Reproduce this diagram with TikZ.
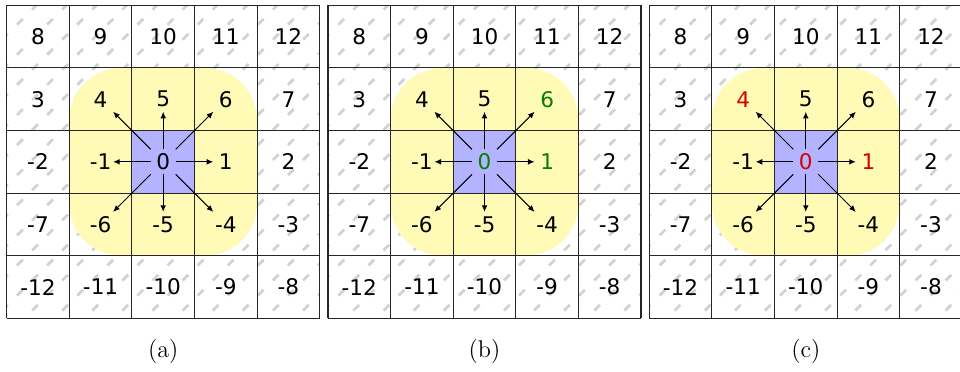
\documentclass[tikz,border=0pt]{standalone}
\usepackage{fontspec}
\newfontfamily\cellfont{DejaVu Sans}
\usepackage{tikz}
\usetikzlibrary{calc, arrows.meta}
\definecolor{padyellow}{HTML}{FFFAB5}
\definecolor{centreblue}{HTML}{B3B3FF}
\definecolor{hatchgray}{HTML}{D2D2D2}
\definecolor{hlgreen}{HTML}{008000}
\definecolor{hlred}{HTML}{D40000}

\begin{document}
\begin{tikzpicture}[
    cell/.style={font=\cellfont\fontsize{9.8}{11}\selectfont, inner sep=0pt},
    hatch/.style={hatchgray, line width=1.25pt, dash pattern=on 0.13cm off 0.21cm},
    gridline/.style={black!85, line width=0.5pt},
    arr/.style={-{Latex[length=3pt,width=2.6pt]}, line width=0.45pt},
    subcap/.style={font=\fontsize{11}{13}\selectfont, inner sep=0pt},
    cell b0/.style={text=hlgreen}, cell b1/.style={text=hlgreen}, cell b6/.style={text=hlgreen},
    cell c0/.style={text=hlred}, cell c1/.style={text=hlred}, cell c4/.style={text=hlred}]
  \useasboundingbox (-0.107,-0.842) rectangle (15.229,5.085);
  \foreach \p/\xo in {a/0, b/5.133, c/10.265}{
    \begin{scope}[xshift=\xo cm]
      % hatched background
      \begin{scope}
        \clip (0,0) rectangle (5,5);
        \foreach \d in {-3.6,-3.26,...,3.8}
          \draw[hatch, rotate=45] (-0.305,\d) -- (7.4,\d);
      \end{scope}
      % neighbourhood and centre
      \fill[padyellow, rounded corners=0.83cm] (1,1) rectangle (4,4);
      \fill[centreblue] (2,2) rectangle (3,3);
      \draw[gridline] (0,0) grid (5,5);
      % offsets
      \foreach \r in {-2,...,2}
        \foreach \c in {-2,...,2}{
          \pgfmathtruncatemacro\v{5*\r+\c}
          \node[cell, cell \p\v/.try] (\p\v) at (\c+2.5,\r+2.5) {\v};
        }
      \foreach \n in {1,6,5,4,-1,-6,-5,-4}
        \draw[arr] ($(\p0)!.2!(\p\n)$) -- ($(\p0)!.8!(\p\n)$);
      \node[subcap] (cap\p) at (2.5,-0.522) {(\p)};
    \end{scope}
  }
\end{tikzpicture}
\end{document}
